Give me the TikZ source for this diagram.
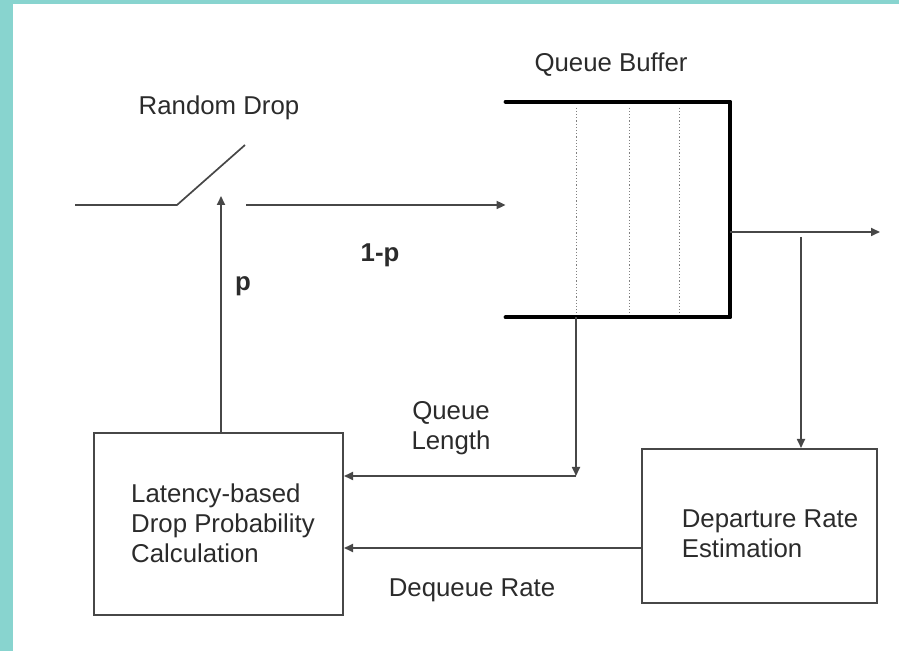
\documentclass[tikz,border=0pt]{standalone}
\usepackage{fontspec}
\setmainfont{Liberation Sans}
\usetikzlibrary{arrows.meta}

\definecolor{frame}{HTML}{88D4CF}
\definecolor{wire}{HTML}{474747}
\definecolor{ink}{HTML}{2B2B2B}

\begin{document}
\begin{tikzpicture}[x=0.5pt, y=-0.5pt,
    every node/.style={font=\fontsize{12.9}{15}\selectfont, text=ink},
    block/.style={draw=wire, line width=1pt, inner sep=0pt},
    wall/.style={draw=black, line width=2pt, line cap=round, line join=round},
    slot/.style={draw=gray, line width=0.8pt, dash pattern=on 0.6pt off 1pt},
    arr/.style={draw=wire, line width=0.85pt, -{Triangle[length=4.5pt, width=4pt]}},
    line/.style={draw=wire, line width=0.85pt}]
  % frame of the slide
  \useasboundingbox (0,0) rectangle (899,651);
  \fill[frame] (0,0) rectangle (13,651);
  \fill[frame] (0,0) rectangle (899,4);
  % used blocks
  % - queue
  % - calc
  % - est
  \node (queue) [minimum width=112pt, minimum height=107.5pt, inner sep=0pt] at (618,209.5) {};
  \node (calc) [block, minimum width=124.5pt, minimum height=91pt] at (218.5,524) {};
  \node (est) [block, minimum width=117.5pt, minimum height=77pt] at (759.5,526) {};
  \node (calctext) [align=left] at (223,523) {Latency-based\\Drop Probability\\Calculation};
  \node (esttext) [align=left] at (770,533.5) {Departure Rate\\Estimation};
  % queue walls and slots
  \draw[wall] (queue.north west) -- (queue.north east) -- (queue.south east) -- (queue.south west);
  \foreach \x in {71,124,174}
    \draw[slot] ([shift={(\x,6)}]queue.north west) -- ([shift={(\x,-4)}]queue.south west);
  % switch
  \coordinate (in) at (75,205);
  \coordinate (pivot) at (177,205);
  \coordinate (blade) at (245,145);
  \coordinate (contact) at (246,205);
  \coordinate (ptip) at (221,196);
  \coordinate (out) at (880,232);
  \coordinate (tap) at (801,237);
  \coordinate (qlen) at (576,476);
  \coordinate (deq) at (642,548);
  \draw[line, line join=round] (in) -- (pivot) -- (blade);
  % labels
  \node (droplabel) at (219,108) {Random Drop};
  \node (bufferlabel) at (611,65) {Queue Buffer};
  \node (passlabel) at (380,255) {\bfseries 1-p};
  \node (plabel) at (243,286) {\bfseries p};
  \node (lenlabel) [align=center] at (451,428) {Queue\\Length};
  \node (ratelabel) at (472,590) {Dequeue Rate};
  % Relations
  \draw[arr] (contact) -- (contact -| queue.west);
  \draw[arr] (calc.north -| ptip) -- (ptip);
  \draw[arr] (queue.east |- out) -- (out);
  \draw[arr] (tap) -- (tap |- est.north);
  \draw[arr] (queue.south -| qlen) -- (qlen);
  \draw[arr] (qlen) -- (qlen -| calc.east);
  \draw[arr] (est.west |- deq) -- (deq -| calc.east);
\end{tikzpicture}
\end{document}
